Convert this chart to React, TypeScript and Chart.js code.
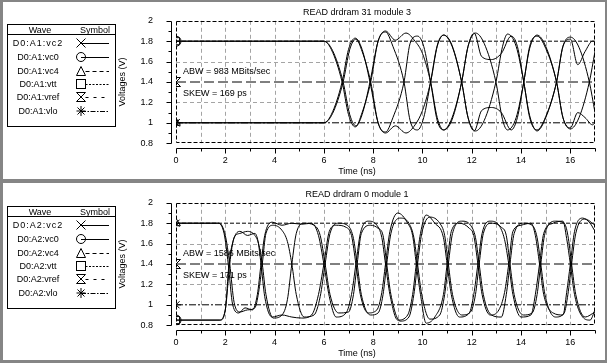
import React, { useEffect, useRef } from 'react';
import { Chart, registerables } from 'chart.js';
Chart.register(...registerables);

const FONT = "'Liberation Sans', Arial, Helvetica, sans-serif";

// ---------- text ----------
const topTitle = 'READ drdram 31 module 3';
const bottomTitle = 'READ drdram 0 module 1';
const topNotes = ['ABW = 983 MBits/sec', 'SKEW = 169 ps'];
const bottomNotes = ['ABW = 1586 MBits/sec', 'SKEW = 171 ps'];
const topNames = ['D0:A1:vc2', 'D0:A1:vc0', 'D0:A1:vc4', 'D0:A1:vtt', 'D0:A1:vref', 'D0:A1:vlo'];
const bottomNames = ['D0:A2:vc2', 'D0:A2:vc0', 'D0:A2:vc4', 'D0:A2:vtt', 'D0:A2:vref', 'D0:A2:vlo'];

// ---------- top panel waveforms (time ns, volts) ----------
const topVc2T = [0, 6.0, 6.3, 6.74, 7.0, 7.27, 7.55, 7.87, 8.2, 8.5, 8.9, 9.33, 9.7, 10.0, 10.33, 10.6, 10.86, 11.2, 11.59, 11.85, 12.1, 12.4, 12.8, 13.2, 13.6, 13.85, 14.11, 14.35, 14.65, 15.0, 15.44, 15.7, 16.0, 16.3, 16.6, 16.9, 17];
const topVc2V = [1.0, 1.0, 1.08, 1.4, 1.72, 1.83, 1.72, 1.4, 1.0, 0.9, 0.97, 0.9, 0.98, 1.12, 1.4, 1.75, 1.86, 1.75, 1.4, 1.05, 0.92, 1.12, 1.15, 1.1, 0.93, 1.05, 1.4, 1.73, 1.86, 1.75, 1.4, 1.05, 0.95, 1.1, 1.05, 0.98, 1.0];
const topVc0T = [0, 6.0, 6.3, 6.74, 7.0, 7.27, 7.55, 7.87, 8.2, 8.5, 8.9, 9.33, 9.7, 10.0, 10.33, 10.6, 10.86, 11.2, 11.59, 11.85, 12.1, 12.4, 12.8, 13.2, 13.6, 13.85, 14.11, 14.35, 14.65, 15.0, 15.44, 15.7, 16.0, 16.3, 16.6, 16.9, 17];
const topVc0V = [1.8, 1.8, 1.72, 1.4, 1.08, 0.96, 1.08, 1.4, 1.8, 1.9, 1.81, 1.88, 1.8, 1.68, 1.4, 1.05, 0.93, 1.05, 1.4, 1.75, 1.88, 1.65, 1.62, 1.68, 1.85, 1.75, 1.4, 1.07, 0.92, 1.05, 1.4, 1.75, 1.82, 1.57, 1.7, 1.8, 1.8];
const topVc4T = [0, 6.0, 6.35, 6.78, 7.05, 7.3, 7.55, 7.9, 8.2, 8.5, 8.8, 9.25, 9.5, 9.8, 10.05, 10.33, 10.6, 10.86, 11.2, 11.59, 11.85, 12.15, 12.5, 12.98, 13.25, 13.45, 13.8, 14.11, 14.35, 14.65, 15.0, 15.44, 15.7, 16.0, 16.35, 16.77, 17];
const topVc4V = [1.0, 1.0, 1.09, 1.4, 1.72, 1.82, 1.7, 1.4, 1.0, 0.91, 1.05, 1.4, 1.78, 1.85, 1.75, 1.4, 1.02, 0.93, 1.03, 1.4, 1.75, 1.88, 1.78, 1.4, 1.03, 0.93, 1.05, 1.4, 1.75, 1.85, 1.73, 1.4, 1.05, 0.94, 1.05, 1.4, 1.7];
const topVttT = [0, 6.0, 6.35, 6.78, 7.05, 7.3, 7.55, 7.9, 8.2, 8.5, 8.8, 9.25, 9.5, 9.8, 10.05, 10.33, 10.6, 10.86, 11.2, 11.59, 11.85, 12.15, 12.5, 12.98, 13.25, 13.45, 13.8, 14.11, 14.35, 14.65, 15.0, 15.44, 15.7, 16.0, 16.35, 16.77, 17];
const topVttV = [1.8, 1.8, 1.71, 1.4, 1.08, 0.97, 1.1, 1.4, 1.8, 1.89, 1.75, 1.4, 1.02, 0.93, 1.05, 1.4, 1.76, 1.86, 1.76, 1.4, 1.05, 0.92, 1.02, 1.4, 1.75, 1.87, 1.75, 1.4, 1.05, 0.93, 1.06, 1.4, 1.75, 1.84, 1.74, 1.4, 1.1];
const topVrefT = [0, 17];
const topVrefV = [1.4, 1.4];
const topVloT = [0, 17];
const topVloV = [1.0, 1.0];
const topHighT = [0, 17];
const topHighV = [1.8, 1.8];

// ---------- bottom panel waveforms ----------
const botVc2T = [0, 1.7, 1.95, 2.12, 2.3, 2.55, 2.8, 3.1, 3.3, 3.45, 3.6, 3.9, 4.3, 4.7, 5.1, 5.5, 5.78, 6.0, 6.22, 6.5, 6.9, 7.12, 7.3, 7.48, 7.8, 8.15, 8.35, 8.5, 8.68, 9.0, 9.4, 9.6, 9.75, 9.92, 10.15, 10.5, 10.85, 11.0, 11.17, 11.5, 11.9, 12.08, 12.25, 12.42, 12.75, 13.1, 13.33, 13.5, 13.67, 14.0, 14.4, 14.58, 14.75, 14.92, 15.3, 15.7, 15.85, 16.0, 16.17, 16.5, 16.8, 17];
const botVc2V = [1.8, 1.8, 1.7, 1.4, 1.0, 0.92, 0.97, 0.95, 1.1, 1.4, 1.68, 1.81, 1.78, 1.8, 1.79, 1.8, 1.68, 1.4, 1.08, 0.88, 0.92, 1.1, 1.4, 1.7, 1.82, 1.78, 1.66, 1.4, 1.1, 0.85, 0.9, 1.1, 1.4, 1.7, 1.88, 1.8, 1.66, 1.4, 1.1, 0.88, 0.92, 1.1, 1.4, 1.7, 1.82, 1.78, 1.64, 1.4, 1.1, 0.88, 0.9, 1.1, 1.4, 1.7, 1.8, 1.82, 1.65, 1.4, 1.1, 0.88, 0.85, 0.95];
const botVc0T = [0, 1.8, 2.0, 2.15, 2.35, 2.6, 2.9, 3.2, 3.33, 3.45, 3.6, 3.9, 4.3, 4.7, 5.1, 5.5, 5.78, 6.0, 6.22, 6.5, 6.9, 7.12, 7.3, 7.48, 7.8, 8.15, 8.35, 8.5, 8.68, 9.0, 9.4, 9.6, 9.75, 9.92, 10.15, 10.5, 10.85, 11.0, 11.17, 11.5, 11.9, 12.08, 12.25, 12.42, 12.75, 13.1, 13.33, 13.5, 13.67, 14.0, 14.4, 14.58, 14.75, 14.92, 15.3, 15.7, 15.85, 16.0, 16.17, 16.5, 16.8, 17];
const botVc0V = [0.85, 0.85, 0.95, 1.4, 1.65, 1.72, 1.68, 1.7, 1.62, 1.4, 1.08, 0.88, 0.9, 0.88, 0.87, 0.9, 1.1, 1.4, 1.72, 1.78, 1.76, 1.68, 1.4, 1.1, 0.92, 0.95, 1.12, 1.4, 1.72, 1.9, 1.8, 1.68, 1.4, 1.1, 0.82, 0.88, 1.1, 1.4, 1.72, 1.8, 1.75, 1.68, 1.4, 1.1, 0.9, 0.95, 1.12, 1.4, 1.72, 1.78, 1.8, 1.68, 1.4, 1.1, 0.92, 0.9, 1.12, 1.4, 1.72, 1.85, 1.8, 1.72];
const botVc4T = [0, 1.75, 2.0, 2.18, 2.36, 2.6, 2.9, 3.2, 3.35, 3.5, 3.65, 3.95, 4.3, 4.52, 4.7, 4.88, 5.2, 5.6, 5.85, 6.05, 6.25, 6.6, 7.0, 7.2, 7.35, 7.52, 7.9, 8.2, 8.4, 8.55, 8.72, 9.1, 9.45, 9.65, 9.8, 9.97, 10.3, 10.7, 10.9, 11.05, 11.22, 11.6, 11.95, 12.15, 12.3, 12.47, 12.8, 13.2, 13.4, 13.55, 13.72, 14.1, 14.45, 14.65, 14.8, 14.97, 15.4, 15.75, 15.9, 16.05, 16.22, 16.6, 17];
const botVc4V = [1.8, 1.8, 1.68, 1.4, 1.02, 0.93, 0.95, 0.97, 1.12, 1.4, 1.7, 1.78, 1.73, 1.62, 1.4, 1.1, 0.88, 0.9, 1.08, 1.4, 1.7, 1.8, 1.77, 1.65, 1.4, 1.1, 0.9, 0.92, 1.1, 1.4, 1.7, 1.85, 1.8, 1.66, 1.4, 1.1, 0.86, 0.9, 1.1, 1.4, 1.7, 1.82, 1.78, 1.66, 1.4, 1.1, 0.9, 0.88, 1.1, 1.4, 1.7, 1.8, 1.78, 1.66, 1.4, 1.1, 0.88, 0.92, 1.1, 1.4, 1.7, 1.84, 1.78];
const botVttT = [0, 1.75, 2.0, 2.18, 2.36, 2.6, 2.9, 3.2, 3.35, 3.5, 3.65, 3.95, 4.3, 4.52, 4.7, 4.88, 5.2, 5.6, 5.85, 6.05, 6.25, 6.6, 7.0, 7.2, 7.35, 7.52, 7.9, 8.2, 8.4, 8.55, 8.72, 9.1, 9.45, 9.65, 9.8, 9.97, 10.3, 10.7, 10.9, 11.05, 11.22, 11.6, 11.95, 12.15, 12.3, 12.47, 12.8, 13.2, 13.4, 13.55, 13.72, 14.1, 14.45, 14.65, 14.8, 14.97, 15.4, 15.75, 15.9, 16.05, 16.22, 16.6, 17];
const botVttV = [0.85, 0.85, 0.95, 1.4, 1.66, 1.7, 1.72, 1.68, 1.6, 1.4, 1.1, 0.87, 0.9, 1.05, 1.4, 1.7, 1.8, 1.78, 1.68, 1.4, 1.1, 0.92, 0.93, 1.1, 1.4, 1.7, 1.78, 1.75, 1.68, 1.4, 1.1, 0.84, 0.88, 1.1, 1.4, 1.7, 1.86, 1.8, 1.68, 1.4, 1.1, 0.9, 0.93, 1.1, 1.4, 1.7, 1.8, 1.76, 1.68, 1.4, 1.1, 0.9, 0.92, 1.1, 1.4, 1.7, 1.82, 1.8, 1.68, 1.4, 1.1, 0.88, 0.93];
const botVrefT = [0, 17];
const botVrefV = [1.4, 1.4];
const botVloT = [0, 17];
const botVloV = [1.0, 1.0];
const botHighT = [0, 17];
const botHighV = [1.8, 1.8];

// ---------- hourglass marker ----------
function makeHourglass(size: number) {
  const c = document.createElement('canvas');
  c.width = size; c.height = size;
  const g = c.getContext('2d')!;
  g.strokeStyle = '#000'; g.lineWidth = 1;
  const a = 0.5, b = size - 0.5;
  g.beginPath();
  g.moveTo(a, a); g.lineTo(b, a); g.lineTo(a, b); g.lineTo(b, b); g.lineTo(a, a);
  g.stroke();
  return c;
}

type Series = { name: string; t: number[]; v: number[]; marker: any; dash: number[] };

function buildSeries(names: string[], arr: [number[], number[]][], hg: any): Series[] {
  const markers: any[] = ['crossRot', 'circle', 'triangle', 'rect', hg, 'star'];
  return [
    { name: names[0], t: arr[0][0], v: arr[0][1], marker: markers[0], dash: [] },
    { name: names[1], t: arr[1][0], v: arr[1][1], marker: markers[1], dash: [] },
    { name: names[2], t: arr[2][0], v: arr[2][1], marker: markers[2], dash: [] },
    { name: names[3], t: arr[3][0], v: arr[3][1], marker: markers[3], dash: [] },
    { name: names[4], t: arr[4][0], v: arr[4][1], marker: markers[4], dash: [10, 4] },
    { name: names[5], t: arr[5][0], v: arr[5][1], marker: markers[5], dash: [7, 2, 2, 2] },
    { name: 'high', t: arr[6][0], v: arr[6][1], marker: false, dash: [4, 2] },
  ];
}

function PanelChart({ top, title, notes, series }: { top: number; title: string; notes: string[]; series: Series[] }) {
  const ref = useRef<HTMLCanvasElement>(null);
  useEffect(() => {
    const font = { family: FONT, size: 9, weight: 'normal' as const };
    const frame = {
      id: 'frame',
      beforeDatasetsDraw(chart: any) {
        const { ctx, chartArea: a, scales } = chart;
        const x = scales.x, y = scales.y;
        ctx.save();
        ctx.strokeStyle = '#a4a4a4';
        ctx.lineWidth = 1;
        ctx.setLineDash([4, 3]);
        for (let t = 1; t < 17; t++) {
          const px = Math.round(x.getPixelForValue(t)) + 0.5;
          ctx.beginPath(); ctx.moveTo(px, a.top); ctx.lineTo(px, a.bottom); ctx.stroke();
        }
        for (const v of [1.2, 1.6]) {
          const py = Math.round(y.getPixelForValue(v)) + 0.5;
          ctx.beginPath(); ctx.moveTo(a.left, py); ctx.lineTo(a.right, py); ctx.stroke();
        }
        ctx.setLineDash([]);
        ctx.fillStyle = '#000';
        ctx.font = `9px ${FONT}`;
        ctx.textBaseline = 'middle';
        ctx.textAlign = 'left';
        ctx.fillText(notes[0], a.left + 7, a.top + 51);
        ctx.fillText(notes[1], a.left + 7, a.top + 73);
        ctx.restore();
      },
      afterDatasetsDraw(chart: any) {
        const { ctx, chartArea: a, scales } = chart;
        const x = scales.x, y = scales.y;
        ctx.save();
        ctx.strokeStyle = '#000';
        ctx.lineWidth = 1;
        ctx.setLineDash([4, 2]);
        const l = Math.round(a.left) + 0.5, r = Math.round(a.right) - 0.5;
        const tp = Math.round(a.top) + 0.5, bt = Math.round(a.bottom) - 0.5;
        ctx.strokeRect(l, tp, r - l, bt - tp);
        ctx.setLineDash([]);
        const ax = l - 5;
        ctx.beginPath();
        ctx.moveTo(ax, Math.round(y.getPixelForValue(2)) + 0.5);
        ctx.lineTo(ax, Math.round(y.getPixelForValue(0.8)) + 0.5);
        for (let i = 8; i <= 20; i++) {
          const py = Math.round(y.getPixelForValue(i / 10)) + 0.5;
          const len = i % 2 === 0 ? 5 : 3;
          ctx.moveTo(ax - len, py); ctx.lineTo(ax, py);
        }
        ctx.stroke();
        const ay = bt + 6;
        ctx.beginPath();
        ctx.moveTo(Math.round(x.getPixelForValue(0)) + 0.5, ay);
        ctx.lineTo(Math.round(x.getPixelForValue(17)) + 0.5, ay);
        for (let t = 0; t <= 17; t++) {
          const px = Math.round(x.getPixelForValue(t)) + 0.5;
          const len = t % 2 === 0 ? 5 : 3;
          ctx.moveTo(px, ay); ctx.lineTo(px, ay + len);
        }
        ctx.stroke();
        ctx.restore();
      },
    };
    const chart = new Chart(ref.current!, {
      type: 'line',
      data: {
        datasets: series.map((s) => ({
          label: s.name,
          data: s.t.map((t, i) => ({ x: t, y: s.v[i] })),
          borderColor: '#000',
          borderWidth: 1,
          borderDash: s.dash,
          pointStyle: s.marker || 'circle',
          pointRadius: (c: any) => (s.marker && c.dataIndex === 0 ? 5 : 0),
          pointHoverRadius: 0,
          pointBorderColor: '#000',
          pointBackgroundColor: 'rgba(0,0,0,0)',
          pointBorderWidth: 1,
          cubicInterpolationMode: 'monotone' as const,
          fill: false,
        })),
      },
      options: {
        animation: false,
        responsive: false,
        devicePixelRatio: 1,
        events: [],
        layout: { padding: { left: 112, right: 5, top: 0, bottom: 0 } },
        plugins: {
          legend: { display: false },
          tooltip: { enabled: false },
          title: { display: true, text: title, color: '#000', font, padding: { top: 7, bottom: 3 } },
          subtitle: { display: true, position: 'bottom', text: 'Time (ns)', color: '#000', font, padding: { top: 0, bottom: 4 } },
        },
        scales: {
          x: {
            type: 'linear', min: 0, max: 17,
            grid: { display: false, drawTicks: false }, border: { display: false },
            afterFit: (s: any) => { s.height = 23; },
            ticks: {
              stepSize: 1, autoSkip: false, maxRotation: 0, padding: 12, color: '#000', font,
              callback: (v: any) => (v % 2 === 0 && v < 17 ? String(v) : ''),
            },
          },
          y: {
            min: 0.8, max: 2,
            grid: { display: false, drawTicks: true, tickLength: 20 }, border: { display: false },
            afterFit: (s: any) => { s.width = 64; },
            title: { display: true, text: 'Voltages (V)', color: '#000', font, padding: { top: 5.5, bottom: 0 } },
            ticks: {
              stepSize: 0.2, padding: 3, color: '#000', font,
              callback: (v: any) => String(Math.round(v * 10) / 10),
            },
          },
        },
      } as any,
      plugins: [frame],
    });
    return () => chart.destroy();
  }, []);
  return (
    <canvas ref={ref} width={607} height={181}
      style={{ position: 'absolute', left: 0, top, width: 607, height: 181 }} />
  );
}

function Sym({ kind }: { kind: number }) {
  const st = { stroke: '#000', strokeWidth: 1, fill: 'none' } as any;
  const lineDash = ['', '', '4 3', '2 1.5', '3 5', '5 1.5 1.5 1.5'][kind];
  const startX = [9, 9, 13.5, 13.5, 13.5, 9][kind];
  let mk: any = null;
  if (kind === 0) mk = <path d="M4.5 1.5 L13.5 10.5 M4.5 10.5 L13.5 1.5" {...st} />;
  if (kind === 1) mk = <circle cx={9} cy={6} r={4.5} {...st} />;
  if (kind === 2) mk = <path d="M9 1.5 L13.5 10.5 L4.5 10.5 Z" {...st} />;
  if (kind === 3) mk = <rect x={4.5} y={1.5} width={9} height={9} {...st} />;
  if (kind === 4) mk = <path d="M4.5 1.5 H13.5 L4.5 10.5 H13.5 Z" {...st} />;
  if (kind === 5) mk = <path d="M9 1 V11 M4.5 6 H13.5 M5.5 2.5 L12.5 9.5 M5.5 9.5 L12.5 2.5" {...st} />;
  return (
    <svg width={40} height={12} style={{ position: 'absolute', left: 64, top: 0 }}>
      {mk}
      <line x1={startX} y1={6.5} x2={37} y2={6.5} stroke="#000" strokeWidth={1} strokeDasharray={lineDash || undefined} />
    </svg>
  );
}

function LegendBox({ top, names }: { top: number; names: string[] }) {
  const rowY = [18, 32, 46, 59, 72, 86];
  return (
    <div style={{ position: 'absolute', left: 7, top: top + 24, width: 107, height: 101, border: '1px solid #000', background: '#fff', fontFamily: FONT, fontSize: 9, color: '#000' }}>
      <div style={{ position: 'absolute', left: 2, width: 60, top: 0, lineHeight: '11px', textAlign: 'center' }}>Wave</div>
      <div style={{ position: 'absolute', left: 62, width: 50, top: 0, lineHeight: '11px', textAlign: 'center' }}>Symbol</div>
      <div style={{ position: 'absolute', left: 0, right: 0, top: 9, height: 1, background: '#000' }} />
      {names.map((n, i) => (
        <div key={n} style={{ position: 'absolute', left: 0, width: 107, top: rowY[i] - 6, height: 12 }}>
          <div style={{ position: 'absolute', left: -2, width: 64, top: 0, lineHeight: '12px', textAlign: 'center', letterSpacing: i === 0 ? '1px' : '0px' }}>{n}</div>
          <Sym kind={i} />
        </div>
      ))}
    </div>
  );
}

export default function App() {
  const hg = makeHourglass(10);
  const topSeries = buildSeries(topNames, [
    [topVc2T, topVc2V], [topVc0T, topVc0V], [topVc4T, topVc4V], [topVttT, topVttV],
    [topVrefT, topVrefV], [topVloT, topVloV], [topHighT, topHighV],
  ], hg);
  const botSeries = buildSeries(bottomNames, [
    [botVc2T, botVc2V], [botVc0T, botVc0V], [botVc4T, botVc4V], [botVttT, botVttV],
    [botVrefT, botVrefV], [botVloT, botVloV], [botHighT, botHighV],
  ], hg);
  const gray = '#858585';
  return (
    <div style={{ position: 'fixed', left: 0, top: 0, width: 607, height: 363, background: '#fff', overflow: 'hidden' }}>
      <PanelChart top={0} title={topTitle} notes={topNotes} series={topSeries} />
      <PanelChart top={182} title={bottomTitle} notes={bottomNotes} series={botSeries} />
      <LegendBox top={0} names={topNames} />
      <LegendBox top={182} names={bottomNames} />
      <div style={{ position: 'absolute', left: 0, top: 0, width: 607, height: 2, background: gray }} />
      <div style={{ position: 'absolute', left: 0, top: 179, width: 607, height: 4, background: gray }} />
      <div style={{ position: 'absolute', left: 0, top: 360, width: 607, height: 3, background: gray }} />
      <div style={{ position: 'absolute', left: 0, top: 0, width: 3, height: 363, background: gray }} />
      <div style={{ position: 'absolute', left: 605, top: 0, width: 2, height: 363, background: gray }} />
    </div>
  );
}
